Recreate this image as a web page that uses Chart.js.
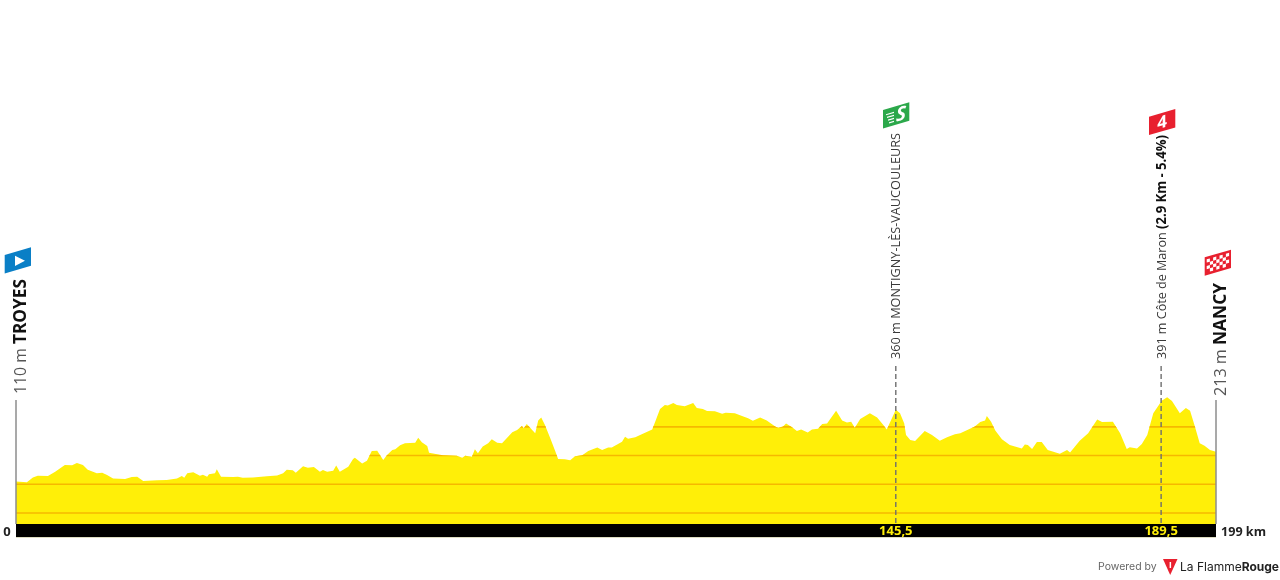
<!DOCTYPE html>
<html lang="en">
<head>
    <meta charset="UTF-8">
    <title>Stage profile Troyes - Nancy</title>
    <script src="https://cdn.jsdelivr.net/npm/chart.js"></script>
    <style>
        body { margin: 0; background: #fff; }
        canvas { display: block; }
    </style>
</head>
<body>
    <canvas id="profile" width="1280" height="580"></canvas>

    <script>
        // Distance along the stage (km)
        const distanceKm = [0, 1.8, 2.8, 3.6, 5.3, 6.5, 8.1, 9.3, 10.1, 11.1, 11.9, 13.4, 14.3, 15.1, 16.1, 18.1, 19.2, 20.1, 21.1, 23.4, 25.0, 26.7, 27.5, 27.9, 28.4, 29.4, 30.5, 31.0, 31.7, 32.0, 33.0, 33.3, 34.0, 36.0, 36.8, 37.6, 39.3, 41.6, 43.3, 44.3, 44.9, 45.9, 46.4, 47.6, 48.4, 49.4, 50.4, 50.9, 51.6, 52.6, 53.1, 53.7, 55.1, 55.9, 56.2, 57.4, 58.2, 59.0, 59.9, 60.9, 61.5, 62.4, 62.9, 63.7, 64.5, 66.2, 66.7, 67.3, 68.2, 68.5, 70.3, 70.8, 73.1, 74.0, 74.5, 75.6, 76.1, 76.6, 77.4, 78.3, 78.9, 79.8, 80.6, 82.3, 83.1, 83.9, 84.2, 84.7, 85.6, 86.1, 86.6, 87.1, 87.7, 88.6, 89.4, 89.9, 91.0, 91.9, 92.7, 93.9, 94.9, 96.4, 97.2, 98.2, 98.8, 100.5, 101.0, 101.5, 102.7, 103.5, 105.5, 106.0, 106.8, 107.6, 108.1, 109.0, 109.6, 110.9, 112.3, 112.9, 113.9, 114.6, 115.9, 117.1, 117.7, 119.2, 120.4, 121.4, 122.2, 123.4, 124.5, 125.9, 126.4, 127.2, 127.7, 128.7, 129.5, 130.2, 131.3, 132.0, 133.0, 133.7, 134.5, 136.0, 137.0, 137.8, 138.5, 139.1, 140.0, 141.6, 142.8, 143.8, 144.4, 145.9, 146.6, 147.3, 147.6, 148.3, 149.1, 150.7, 151.9, 153.2, 154.4, 155.7, 156.6, 159.0, 159.9, 160.7, 161.0, 161.7, 162.4, 163.5, 164.8, 166.8, 167.3, 167.8, 168.5, 169.3, 170.1, 171.1, 173.1, 174.3, 174.8, 176.4, 177.8, 179.3, 180.1, 181.9, 183.1, 184.2, 184.7, 185.9, 186.7, 187.6, 188.6, 190.0, 190.9, 191.7, 193.0, 194.0, 194.7, 195.5, 196.3, 197.1, 198.0, 199];

        // Elevation (m) at each of those distances
        const elevationM = [110, 107, 124, 130, 129, 144, 167, 166, 174, 167, 151, 138, 140, 132, 120, 118, 125, 126, 111, 114, 115, 120, 129, 123, 138, 142, 130, 133, 126, 135, 138, 152, 126, 125, 126, 123, 124, 128, 131, 138, 151, 149, 140, 163, 158, 160, 144, 150, 144, 147, 165, 144, 161, 188, 192, 172, 182, 216, 217, 185, 201, 219, 222, 236, 243, 245, 262, 246, 233, 210, 203, 201, 199, 192, 199, 196, 222, 208, 232, 243, 257, 245, 243, 281, 289, 303, 295, 310, 289, 278, 322, 333, 307, 260, 217, 188, 187, 184, 198, 201, 216, 228, 219, 228, 228, 248, 266, 259, 264, 272, 291, 318, 362, 376, 374, 383, 376, 372, 383, 366, 362, 355, 354, 346, 349, 347, 338, 330, 321, 333, 322, 301, 297, 301, 312, 299, 286, 291, 280, 291, 293, 310, 312, 356, 322, 315, 318, 297, 327, 347, 333, 307, 291, 360, 347, 312, 272, 254, 251, 286, 272, 252, 264, 274, 278, 301, 317, 322, 338, 318, 287, 257, 237, 225, 239, 237, 223, 247, 247, 219, 206, 219, 211, 252, 278, 326, 317, 318, 278, 223, 229, 225, 240, 272, 347, 391, 403, 390, 347, 366, 356, 301, 243, 234, 219, 213];

        const gridLevels = [0, 100, 200, 300];
        const markKm = [145.9, 189.9];
        const markLabels = ['145,5', '189,5'];
        const stageLengthKm = 199;
        const roadBase = -38;

        const YELLOW = '#ffef08';
        const GRID = '#f6b800';
        const TEXT = '#3a3a3a';
        const FONT = '"Open Sans", sans-serif';

        // Rotated label, written bottom to top
        function verticalText(ctx, x, yBottom, parts) {
            ctx.save();
            ctx.translate(x, yBottom);
            ctx.rotate(-Math.PI / 2);
            ctx.textBaseline = 'alphabetic';
            ctx.textAlign = 'left';
            parts.forEach(p => {
                ctx.font = p.font;
                ctx.fillStyle = p.color;
                const natural = ctx.measureText(p.text).width;
                const squeeze = p.width ? p.width / natural : 1;
                ctx.save();
                ctx.scale(squeeze, 1);
                ctx.fillText(p.text, 0, 0);
                ctx.restore();
                ctx.translate(natural * squeeze, 0);
            });
            ctx.restore();
        }

        // Skewed flag, content is drawn in flag coordinates
        function flag(ctx, x, y, color, content) {
            ctx.save();
            ctx.transform(1, -0.29, 0, 1, x, y);
            ctx.fillStyle = color;
            ctx.fillRect(0, 0, 26.3, 18.4);
            ctx.fillStyle = '#fff';
            content();
            ctx.restore();
        }

        const decorations = {
            id: 'decorations',
            afterDatasetsDraw(chart) {
                const { ctx, scales: { x, y }, chartArea } = chart;
                const roadY = y.getPixelForValue(roadBase);

                // orange height lines only show inside the profile
                ctx.save();
                ctx.beginPath();
                ctx.moveTo(x.getPixelForValue(0), roadY);
                distanceKm.forEach((km, i) => ctx.lineTo(x.getPixelForValue(km), y.getPixelForValue(elevationM[i])));
                ctx.lineTo(x.getPixelForValue(stageLengthKm), roadY);
                ctx.closePath();
                ctx.clip();
                ctx.strokeStyle = GRID;
                ctx.lineWidth = 1.6;
                gridLevels.forEach(level => {
                    const py = y.getPixelForValue(level);
                    ctx.beginPath();
                    ctx.moveTo(chartArea.left, py);
                    ctx.lineTo(chartArea.right, py);
                    ctx.stroke();
                });
                ctx.restore();

                // start and finish posts
                ctx.strokeStyle = '#8c8c8c';
                ctx.lineWidth = 1.5;
                [0, stageLengthKm].forEach(km => {
                    const px = x.getPixelForValue(km);
                    ctx.beginPath();
                    ctx.moveTo(px, 400);
                    ctx.lineTo(px, roadY);
                    ctx.stroke();
                });

                // dashed lines for the sprint and the climb
                ctx.save();
                ctx.strokeStyle = '#6e6e6e';
                ctx.lineWidth = 1.4;
                ctx.setLineDash([5, 3]);
                markKm.forEach(km => {
                    const px = x.getPixelForValue(km);
                    ctx.beginPath();
                    ctx.moveTo(px, 366);
                    ctx.lineTo(px, roadY);
                    ctx.stroke();
                });
                ctx.restore();

                // km labels
                ctx.textBaseline = 'middle';
                ctx.font = 'bold 13px ' + FONT;
                ctx.textAlign = 'center';
                ctx.fillStyle = YELLOW;
                markKm.forEach((km, i) => ctx.fillText(markLabels[i], x.getPixelForValue(km), 531));
                ctx.fillStyle = '#222';
                ctx.font = 'bold 13px ' + FONT;
                ctx.fillText('0', 7, 532);
                ctx.textAlign = 'left';
                ctx.font = 'bold 12.6px ' + FONT;
                ctx.fillText('199 km', 1221, 532);

                // vertical labels
                verticalText(ctx, 25.5, 394, [
                    { text: '110 m ', font: '17px ' + FONT, color: '#555', width: 50 },
                    { text: 'TROYES', font: 'bold 18px ' + FONT, color: '#111', width: 65 }
                ]);
                verticalText(ctx, 1225.5, 396, [
                    { text: '213 m ', font: '17px ' + FONT, color: '#555', width: 51 },
                    { text: 'NANCY', font: 'bold 18px ' + FONT, color: '#111', width: 62 }
                ]);
                verticalText(ctx, 900, 359, [
                    { text: '360 m MONTIGNY-LÈS-VAUCOULEURS', font: '13.5px ' + FONT, color: TEXT, width: 226 }
                ]);
                verticalText(ctx, 1166, 359, [
                    { text: '391 m Côte de Maron ', font: '13.5px ' + FONT, color: TEXT, width: 130 },
                    { text: '(2.9 Km - 5.4%)', font: 'bold 13.5px ' + FONT, color: '#111', width: 94 }
                ]);

                // flags
                flag(ctx, 4.7, 255, '#0a7fc6', () => {
                    ctx.beginPath();
                    ctx.moveTo(10.3, 3.7);
                    ctx.lineTo(20.3, 11.6);
                    ctx.lineTo(10.3, 14);
                    ctx.closePath();
                    ctx.fill();
                });
                flag(ctx, 883, 110, '#2ba84a', () => {
                    ctx.fillRect(3, 5, 8, 1.2);
                    ctx.fillRect(4, 8, 7, 1.2);
                    ctx.fillRect(5, 11, 6, 1.2);
                    ctx.fillRect(6, 14, 5, 1.2);
                    ctx.font = 'italic bold 19px ' + FONT;
                    ctx.textAlign = 'center';
                    ctx.textBaseline = 'middle';
                    ctx.fillText('S', 18, 10);
                });
                flag(ctx, 1149, 116.7, '#e8202f', () => {
                    ctx.font = 'bold 17px ' + FONT;
                    ctx.textAlign = 'center';
                    ctx.textBaseline = 'middle';
                    ctx.fillText('4', 13, 10);
                });
                flag(ctx, 1204.7, 257.3, '#e8202f', () => {
                    for (let r = 0; r < 4; r++) {
                        for (let c = 0; c < 7; c++) {
                            if ((r + c) % 2 === 0) ctx.fillRect(2 + c * 3.2, 2.6 + r * 3.3, 3.2, 3.3);
                        }
                    }
                });

                // footer
                ctx.textBaseline = 'middle';
                ctx.textAlign = 'left';
                ctx.fillStyle = '#666';
                ctx.font = '10.5px Inter, sans-serif';
                ctx.fillText('Powered by', 1098, 567);
                ctx.fillStyle = '#e8202f';
                ctx.beginPath();
                ctx.moveTo(1163, 559);
                ctx.lineTo(1177.5, 559);
                ctx.lineTo(1170.2, 575);
                ctx.closePath();
                ctx.fill();
                ctx.fillStyle = '#fff';
                ctx.fillRect(1169.6, 562, 1.5, 6);
                ctx.fillStyle = '#222';
                ctx.font = '12px Inter, sans-serif';
                ctx.fillText('La Flamme', 1180, 567);
                const w = ctx.measureText('La Flamme').width;
                ctx.font = 'bold 12px Inter, sans-serif';
                ctx.fillText('Rouge', 1180 + w, 567);
            }
        };

        new Chart(document.getElementById('profile'), {
            type: 'line',
            data: {
                datasets: [
                    {
                        // black road strip, sits over the yellow
                        data: [{ x: 0, y: roadBase }, { x: stageLengthKm, y: roadBase }],
                        borderWidth: 0,
                        pointRadius: 0,
                        backgroundColor: '#000',
                        fill: 'start',
                        order: 0
                    },
                    {
                        data: distanceKm.map((km, i) => ({ x: km, y: elevationM[i] })),
                        borderWidth: 0,
                        pointRadius: 0,
                        tension: 0,
                        backgroundColor: YELLOW,
                        fill: 'start',
                        order: 1
                    }
                ]
            },
            options: {
                responsive: false,
                animation: false,
                layout: { padding: { left: 16, right: 64, top: 0, bottom: 42.5 } },
                scales: {
                    x: { type: 'linear', min: 0, max: stageLengthKm, display: false },
                    y: { min: -85.4, max: 1787, display: false }
                },
                plugins: { legend: { display: false }, tooltip: { enabled: false } }
            },
            plugins: [decorations]
        });
    </script>
</body>
</html>
